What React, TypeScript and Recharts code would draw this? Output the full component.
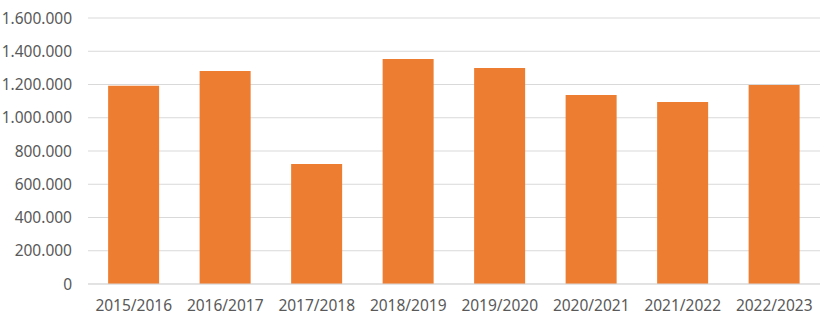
import React from "react";
import { BarChart, Bar, XAxis, YAxis, CartesianGrid } from "recharts";

const seasons = [
  "2015/2016",
  "2016/2017",
  "2017/2018",
  "2018/2019",
  "2019/2020",
  "2020/2021",
  "2021/2022",
  "2022/2023",
];
const values = [1192000, 1281000, 722000, 1353000, 1299000, 1137000, 1095000, 1197000];
const yTicks = [0, 200000, 400000, 600000, 800000, 1000000, 1200000, 1400000, 1600000];

const data = seasons.map((season, i) => ({ season, value: values[i] }));

// thousands separated by dots, like the source
const fmt = (v: number) => String(v).replace(/\B(?=(\d{3})+(?!\d))/g, ".");

const tickStyle = { fill: "#595959", fontSize: 15.5, fontFamily: "'Noto Sans', sans-serif" };

export default function App() {
  return (
    <div style={{ position: "absolute", left: 0, top: 0, background: "#fff" }}>
      <BarChart
        width={831}
        height={321}
        data={data}
        margin={{ top: 18, right: 11, bottom: 0, left: 0 }}
        barCategoryGap="22%"
      >
        <CartesianGrid vertical={false} stroke="#D9D9D9" />
        <XAxis
          dataKey="season"
          height={37}
          tickLine={false}
          axisLine={{ stroke: "#D9D9D9" }}
          tickSize={0}
          tickMargin={16}
          tick={tickStyle}
          interval={0}
        />
        <YAxis
          width={88}
          domain={[0, 1600000]}
          ticks={yTicks}
          tickFormatter={fmt}
          axisLine={false}
          tickLine={false}
          tickSize={0}
          tickMargin={16}
          tick={tickStyle}
          interval={0}
        />
        <Bar dataKey="value" fill="#ED7D31" isAnimationActive={false} />
      </BarChart>
    </div>
  );
}
